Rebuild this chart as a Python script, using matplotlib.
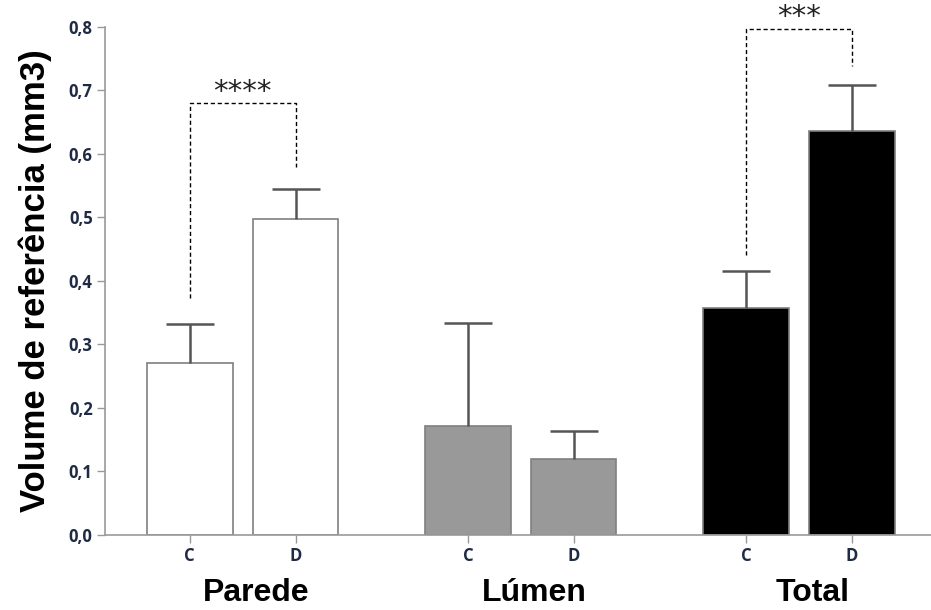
import matplotlib.pyplot as plt

# data
groups = ["Parede", "Lúmen", "Total"]
conditions = ["C", "D"]
means = [0.27, 0.497, 0.172, 0.12, 0.357, 0.636]
errors = [0.062, 0.047, 0.161, 0.044, 0.059, 0.073]
fills = ["white", "white", "#999999", "#999999", "black", "black"]
positions = [0, 1, 2.63, 3.63, 5.26, 6.26]
ytick_vals = [0.0, 0.1, 0.2, 0.3, 0.4, 0.5, 0.6, 0.7, 0.8]
ytick_labels = ["0,0", "0,1", "0,2", "0,3", "0,4", "0,5", "0,6", "0,7", "0,8"]

# significance brackets: (x1, x2, left leg bottom, right leg bottom, top, label)
brackets = [
    (0, 1, 0.373, 0.58, 0.68, "****"),
    (5.26, 6.26, 0.44, 0.739, 0.797, "***"),
]

fig = plt.figure(figsize=(9.31, 6.1), dpi=100)
ax = fig.add_axes([0.113, 0.123, 0.887, 0.833])

ax.bar(positions, means, width=0.81, color=fills, edgecolor="#7f7f7f",
       linewidth=1.2, zorder=2)
eb = ax.errorbar(positions, means, yerr=[[0] * len(means), errors], fmt="none",
                 ecolor="#555555", elinewidth=1.8, capsize=17, capthick=1.8,
                 zorder=3)
# only the upper cap is drawn in the original
eb[1][0].set_visible(False)

for x1, x2, low1, low2, top, label in brackets:
    ax.plot([x1, x1, x2, x2], [low1, top, top, low2], color="black",
            linestyle=(0, (3, 2)), linewidth=1, clip_on=False, zorder=4)
    ax.text((x1 + x2) / 2, top - 0.004, label, ha="center", va="bottom",
            fontsize=21, color="#222222", clip_on=False)

ax.set_xlim(-0.8, 7.01)
ax.set_ylim(0, 0.8)
ax.set_yticks(ytick_vals)
ax.set_yticklabels(ytick_labels, fontfamily="Open Sans", fontweight="bold",
                   fontsize=12, color="#1f2a44")
ax.set_xticks(positions)
ax.set_xticklabels(conditions * 3, fontfamily="Open Sans", fontweight="bold",
                   fontsize=12, color="#1f2a44")
ax.tick_params(axis="both", color="#999999", length=6, width=1, pad=3)

for side in ["top", "right"]:
    ax.spines[side].set_visible(False)
for side in ["left", "bottom"]:
    ax.spines[side].set_color("#999999")
    ax.spines[side].set_linewidth(1.2)

ax.set_ylabel("Volume de referência (mm3)", fontfamily="Liberation Sans",
              fontweight="bold", fontsize=25, labelpad=12)

for i, g in enumerate(groups):
    center = (positions[2 * i] + positions[2 * i + 1]) / 2
    ax.text(center + 0.13, -0.091, g, ha="center", va="center",
            fontfamily="Liberation Sans", fontweight="bold", fontsize=23,
            clip_on=False)

fig.savefig("out.png", dpi=100)
